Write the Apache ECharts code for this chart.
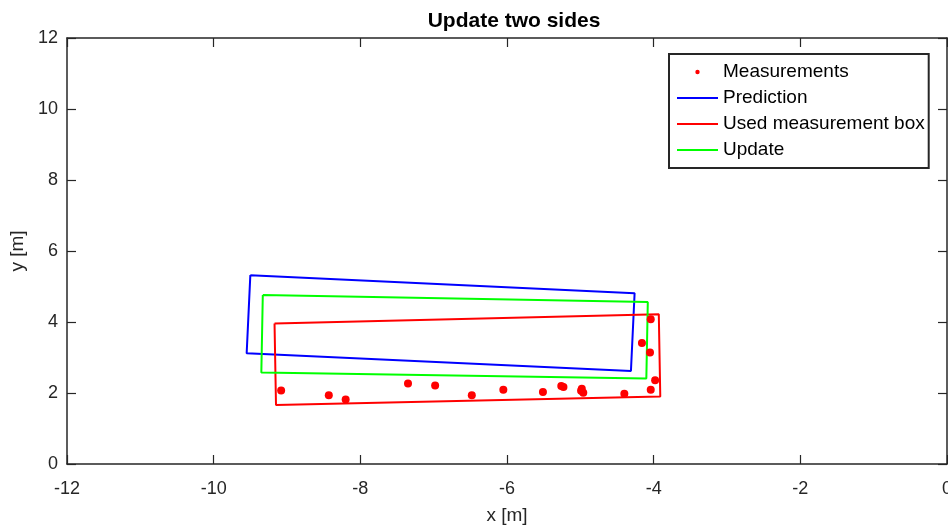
<!DOCTYPE html>
<html>
<head>
<meta charset="utf-8">
<title>Update two sides</title>
<script src="https://cdn.jsdelivr.net/npm/echarts@6/dist/echarts.min.js"></script>
<style>
  html, body { margin: 0; padding: 0; background: #fff; }
  #chart { width: 948px; height: 529px; }
</style>
</head>
<body>
<div id="chart"></div>
<script>
// Axis ranges and tick labels
const xTicks = [-12, -10, -8, -6, -4, -2, 0];
const yTicks = [0, 2, 4, 6, 8, 10, 12];

// Box corners [x, y] in metres, closed back to the first corner
const predictionBox = [[-9.50, 5.32], [-4.26, 4.81], [-4.31, 2.62], [-9.55, 3.12], [-9.50, 5.32]];
const measurementBox = [[-9.17, 3.96], [-3.93, 4.22], [-3.91, 1.90], [-9.15, 1.66], [-9.17, 3.96]];
const updateBox = [[-9.33, 4.76], [-4.08, 4.56], [-4.10, 2.41], [-9.35, 2.58], [-9.33, 4.76]];

// Point measurements
const measX = [-9.08, -8.43, -8.20, -7.35, -6.98, -6.48, -6.05, -5.51, -5.26, -5.23, -4.98, -4.96, -4.99, -4.40, -4.04, -4.16, -4.05, -3.98, -4.04];
const measY = [2.07, 1.94, 1.82, 2.27, 2.21, 1.94, 2.09, 2.03, 2.20, 2.17, 2.12, 2.01, 2.06, 1.98, 4.08, 3.41, 3.14, 2.36, 2.09];

const axisColor = '#262626';
const font = 'Liberation Sans, Arial, Helvetica, sans-serif';

const measurements = measX.map((x, i) => [x, measY[i]]);

// Legend glyphs: a small dot and a plain line segment, both in a 41x14 box
const dotIcon = 'path://M0,0M41,0M41,14M0,14M18.3,7A2.2,2.2 0 1 1 22.7,7A2.2,2.2 0 1 1 18.3,7Z';
const lineIcon = 'path://M0,0M41,0M41,14M0,14M0,6H41V8H0Z';

function frameAxis(extra) {
  return Object.assign({
    type: 'value',
    axisLine: { show: true, onZero: false, lineStyle: { color: axisColor, width: 1.5 } },
    axisTick: { show: true, inside: true, length: 9, lineStyle: { color: axisColor, width: 1.2 } },
    splitLine: { show: false },
    axisLabel: { show: false }
  }, extra);
}

const chart = echarts.init(document.getElementById('chart'), null, { renderer: 'canvas' });

chart.setOption({
  animation: false,
  backgroundColor: '#ffffff',
  title: {
    text: 'Update two sides',
    left: 509,
    textAlign: 'center',
    top: 6,
    textStyle: { fontFamily: font, fontSize: 21, fontWeight: 'bold', color: '#000' }
  },
  grid: { left: 67, right: 1, top: 38, bottom: 65, containLabel: false, outerBoundsMode: 'none' },
  xAxis: [
    frameAxis({
      min: xTicks[0], max: xTicks[xTicks.length - 1], interval: 2,
      position: 'bottom',
      name: 'x [m]', nameLocation: 'middle', nameGap: 42,
      nameTextStyle: { fontFamily: font, fontSize: 19, color: axisColor },
      axisLabel: { show: true, margin: 16, fontFamily: font, fontSize: 18, color: axisColor }
    }),
    frameAxis({ min: xTicks[0], max: xTicks[xTicks.length - 1], interval: 2, position: 'top' })
  ],
  yAxis: [
    frameAxis({
      min: yTicks[0], max: yTicks[yTicks.length - 1], interval: 2,
      position: 'left',
      name: 'y [m]', nameLocation: 'middle', nameGap: 35,
      nameTextStyle: { fontFamily: font, fontSize: 19, color: axisColor },
      axisLabel: { show: true, margin: 9, fontFamily: font, fontSize: 18, color: axisColor }
    }),
    frameAxis({ min: yTicks[0], max: yTicks[yTicks.length - 1], interval: 2, position: 'right' })
  ],
  legend: {
    orient: 'vertical',
    left: 669,
    top: 54,
    padding: [8, 4, 8, 8],
    itemGap: 6,
    itemWidth: 41,
    itemHeight: 14,
    selectedMode: false,
    backgroundColor: '#ffffff',
    borderColor: axisColor,
    borderWidth: 2,
    borderRadius: 0,
    textStyle: { fontFamily: font, fontSize: 19, color: '#000', lineHeight: 20 },
    data: [
      { name: 'Measurements', icon: dotIcon, itemStyle: { color: '#ff0000' } },
      { name: 'Prediction', icon: lineIcon, itemStyle: { color: '#0000ff' } },
      { name: 'Used measurement box', icon: lineIcon, itemStyle: { color: '#ff0000' } },
      { name: 'Update', icon: lineIcon, itemStyle: { color: '#00ff00' } }
    ]
  },
  series: [
    {
      name: 'Measurements',
      type: 'scatter',
      symbol: 'circle',
      symbolSize: 8,
      itemStyle: { color: '#ff0000', opacity: 1 },
      data: measurements,
      z: 5
    },
    {
      name: 'Prediction',
      type: 'line',
      symbol: 'none',
      lineStyle: { color: '#0000ff', width: 2 },
      itemStyle: { color: '#0000ff' },
      data: predictionBox
    },
    {
      name: 'Used measurement box',
      type: 'line',
      symbol: 'none',
      lineStyle: { color: '#ff0000', width: 2 },
      itemStyle: { color: '#ff0000' },
      data: measurementBox
    },
    {
      name: 'Update',
      type: 'line',
      symbol: 'none',
      lineStyle: { color: '#00ff00', width: 2 },
      itemStyle: { color: '#00ff00' },
      data: updateBox
    }
  ]
});
</script>
</body>
</html>
